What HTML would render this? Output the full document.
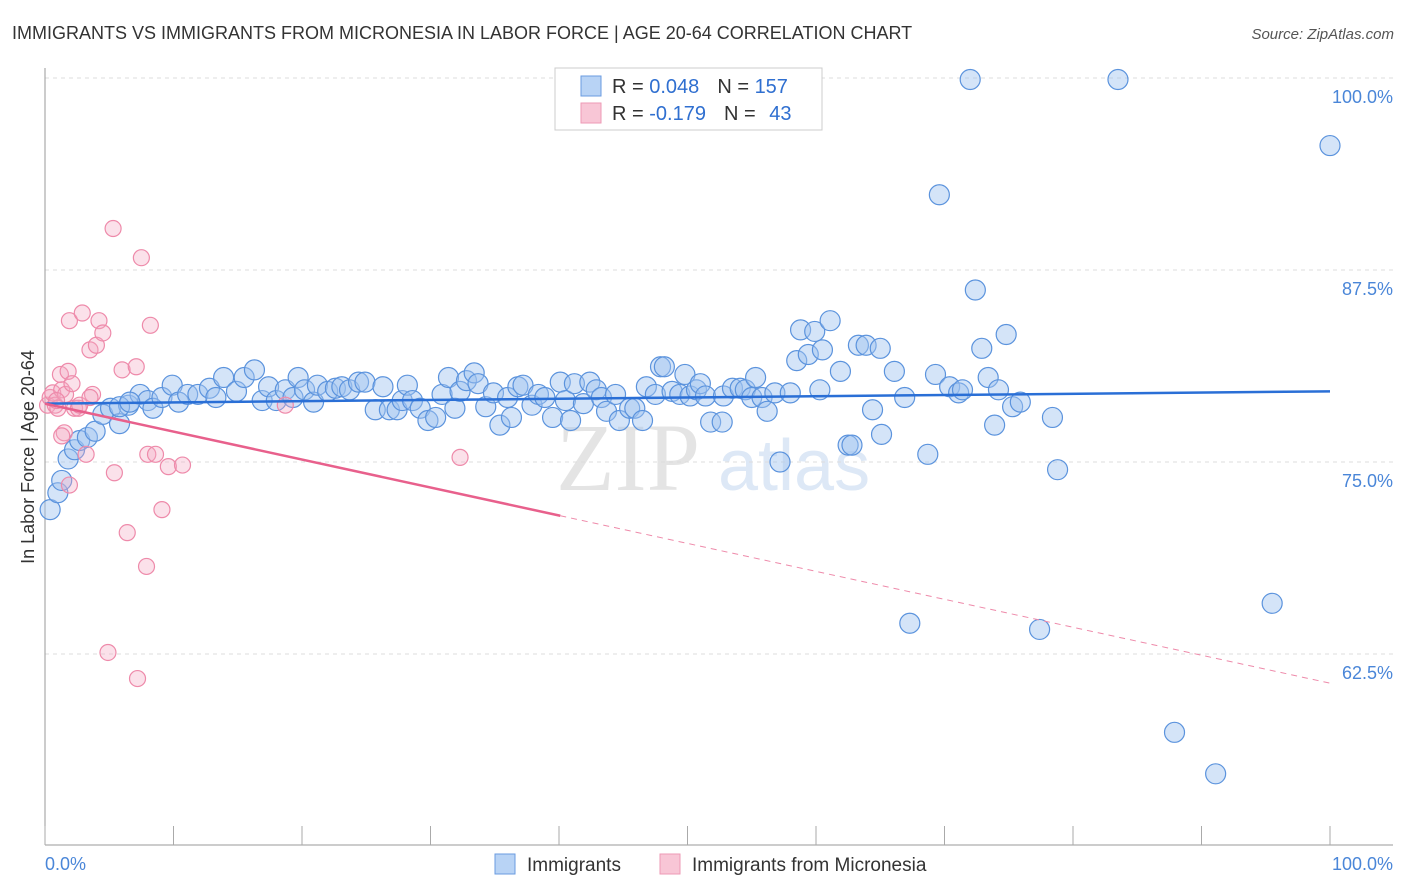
<!DOCTYPE html>
<html><head><meta charset="utf-8"><style>
body{margin:0;background:#fff;font-family:"Liberation Sans",sans-serif;}
svg{display:block}
</style></head><body>
<svg id="chart" width="1406" height="892" xmlns="http://www.w3.org/2000/svg">
<text x="12" y="39" font-size="18" fill="#333">IMMIGRANTS VS IMMIGRANTS FROM MICRONESIA IN LABOR FORCE | AGE 20-64 CORRELATION CHART</text>
<text x="1394" y="39" font-size="15" fill="#555" font-style="italic" text-anchor="end">Source: ZipAtlas.com</text>
<text x="556" y="490" font-size="96" fill="#e4e4e4" font-family="Liberation Serif">ZIP</text>
<text x="718" y="490" font-size="72" fill="#dde8f6">atlas</text>
<g id="grid"></g>
<g id="axes"></g>
<g id="pts"></g>
<g id="lines"></g>
<text transform="translate(34,457) rotate(-90)" font-size="18" fill="#333" text-anchor="middle">In Labor Force | Age 20-64</text>
<g>
<rect x="555" y="68" width="267" height="62" fill="#fff" stroke="#ccc"/>
<rect x="581" y="76" width="20" height="20" fill="#b8d3f5" stroke="#6a9be0"/>
<rect x="581" y="103" width="20" height="20" fill="#f8c6d6" stroke="#ee9ab5"/>
<text x="612" y="93" font-size="20" fill="#333">R = <tspan fill="#2f6fd0">0.048</tspan><tspan dx="18">N = </tspan><tspan fill="#2f6fd0">157</tspan></text>
<text x="612" y="120" font-size="20" fill="#333">R = <tspan fill="#2f6fd0">-0.179</tspan><tspan dx="18">N = </tspan><tspan fill="#2f6fd0" dx="8">43</tspan></text>
</g>
<g>
<rect x="495" y="854" width="20" height="20" fill="#b8d3f5" stroke="#6a9be0"/>
<text x="527" y="871" font-size="19" fill="#333">Immigrants</text>
<rect x="660" y="854" width="20" height="20" fill="#f8c6d6" stroke="#ee9ab5"/>
<text x="692" y="871" font-size="19" fill="#333">Immigrants from Micronesia</text>
</g>
</svg>
<script>
const yTicks=[100,87.5,75,62.5];
const yTickLabels=["100.0%","87.5%","75.0%","62.5%"];
const xLabels=["0.0%","100.0%"];
const blueX=[0.4,1.0,1.3,1.8,2.3,2.7,3.3,3.9,4.5,5.1,5.8,6.5,7.4,8.0,8.4,9.1,9.9,10.4,11.1,11.9,12.8,13.3,13.9,14.9,15.5,16.3,16.9,17.4,18.0,18.7,19.3,19.7,20.2,20.9,21.2,22.0,22.6,23.1,23.7,24.4,24.9,25.7,26.3,26.8,27.4,27.8,28.2,28.6,29.2,29.8,30.4,30.9,31.4,31.9,32.3,32.8,33.4,33.7,34.3,34.9,35.4,36.0,36.3,36.8,37.2,37.9,38.4,38.9,39.5,40.1,40.5,40.9,41.2,41.9,42.4,42.9,43.3,43.7,44.4,44.7,45.5,45.9,46.5,46.8,47.5,47.9,48.2,48.8,49.4,49.8,50.2,50.7,51.0,51.4,51.8,52.7,52.8,53.5,54.1,54.5,55.0,55.3,55.8,56.2,56.8,57.2,58.0,58.5,58.8,59.4,59.9,60.3,60.5,61.1,61.9,62.5,62.8,63.3,63.9,64.4,65.0,65.1,66.1,66.9,68.7,69.3,69.6,70.4,71.1,71.4,72.0,72.4,72.9,73.4,73.9,74.2,74.8,75.3,75.9,78.4,78.8,67.3,77.4,83.5,87.9,91.1,95.5,100.0,5.8,6.6];
const blueY=[71.9,73.0,73.8,75.2,75.8,76.4,76.6,77.0,78.1,78.5,77.5,78.7,79.4,79.0,78.5,79.2,80.0,78.9,79.4,79.4,79.8,79.2,80.5,79.6,80.5,81.0,79.0,79.9,79.0,79.7,79.2,80.5,79.7,78.9,80.0,79.6,79.8,79.9,79.7,80.2,80.2,78.4,79.9,78.4,78.4,79.0,80.0,79.0,78.5,77.7,77.9,79.4,80.5,78.5,79.6,80.3,80.8,80.1,78.6,79.5,77.4,79.2,77.9,79.9,80.0,78.7,79.4,79.2,77.9,80.2,79.0,77.7,80.1,78.8,80.2,79.7,79.2,78.3,79.4,77.7,78.5,78.5,77.7,79.9,79.4,81.2,81.2,79.6,79.4,80.7,79.3,79.7,80.1,79.3,77.6,77.6,79.3,79.8,79.8,79.7,79.2,80.5,79.2,78.3,79.5,75.0,79.5,81.6,83.6,82.0,83.5,79.7,82.3,84.2,80.9,76.1,76.1,82.6,82.6,78.4,82.4,76.8,80.9,79.2,75.5,80.7,92.4,79.9,79.5,79.7,99.9,86.2,82.4,80.5,77.4,79.7,83.3,78.6,78.9,77.9,74.5,64.5,64.1,99.9,57.4,54.7,65.8,95.6,78.6,78.9];
const pinkX=[0.2,0.4,0.6,0.8,1.0,1.2,1.3,1.6,1.8,1.9,1.9,2.1,2.3,2.6,2.7,2.9,3.2,3.5,3.7,4.0,4.2,4.5,5.3,5.4,6.0,6.4,7.1,7.5,7.9,8.0,8.2,8.6,9.1,9.6,10.7,4.9,7.2,18.7,32.3,3.5,0.9,1.5,1.3];
const pinkY=[78.7,79.2,79.5,78.7,78.5,80.7,79.7,79.4,80.9,84.2,73.5,80.1,78.5,78.5,78.7,84.7,75.5,82.3,79.4,82.6,84.2,83.4,90.2,74.3,81.0,70.4,81.2,88.3,68.2,75.5,83.9,75.5,71.9,74.7,74.8,62.6,60.9,78.7,75.3,79.2,79.0,76.9,76.7];
const blueTrend=[78.8,79.6];
const pinkTrend=[78.8,60.6];
const pinkSolidEnd=40.1;
const NS="http://www.w3.org/2000/svg";
const X0=45,X1=1330,YTOP=78,PX_PER=192/12.5;
function sx(v){return X0+(X1-X0)*v/100;}
function sy(v){return YTOP+(100-v)*PX_PER;}
function mk(tag,attrs,parent){const e=document.createElementNS(NS,tag);for(const k in attrs)e.setAttribute(k,attrs[k]);parent.appendChild(e);return e;}
const grid=document.getElementById('grid'),axes=document.getElementById('axes'),pts=document.getElementById('pts'),lines=document.getElementById('lines');
yTicks.forEach((t,i)=>{
 const g=mk('line',{x1:45,x2:1393,y1:sy(t),y2:sy(t),stroke:'#ddd','stroke-dasharray':'4,4'},grid);
 
 
 const l=mk('text',{x:1393,y:sy(t)+25,'font-size':18,fill:'#4a86d8','text-anchor':'end'},axes);
 l.textContent=yTickLabels[i];
 
 
});
const ax=mk('line',{x1:45,x2:45,y1:68,y2:845,stroke:'#999'},axes);


const bx=mk('line',{x1:45,x2:1393,y1:845,y2:845,stroke:'#999'},axes);


for(let i=0;i<=10;i++){
 const t=mk('line',{x1:sx(i*10),x2:sx(i*10),y1:826,y2:845,stroke:'#aaa'},axes);
 
 
}
[[0,'start',45],[100,'end',1393]].forEach((d,i)=>{
 const l=mk('text',{x:d[2],y:870,'font-size':18,fill:'#4a86d8','text-anchor':d[1]},axes);
 l.textContent=xLabels[i];
 
 
});
blueX.forEach((x,i)=>{
 const c=mk('circle',{cx:sx(x),cy:sy(blueY[i]),r:10,fill:'rgba(160,196,240,0.45)',stroke:'#5b93dd','stroke-width':1.2},pts);
 
 
});
pinkX.forEach((x,i)=>{
 const c=mk('circle',{cx:sx(x),cy:sy(pinkY[i]),r:8,fill:'rgba(244,170,195,0.35)',stroke:'#ee8aaa','stroke-width':1.2},pts);
 
 
});
const bt=mk('line',{x1:sx(0),y1:sy(blueTrend[0]),x2:sx(100),y2:sy(blueTrend[1]),stroke:'#2a6fd6','stroke-width':2.5},lines);


const pm=pinkTrend[0]+(pinkTrend[1]-pinkTrend[0])*pinkSolidEnd/100;
const pt=mk('line',{x1:sx(0),y1:sy(pinkTrend[0]),x2:sx(pinkSolidEnd),y2:sy(pm),stroke:'#e8608c','stroke-width':2.5},lines);


const pd=mk('line',{x1:sx(pinkSolidEnd),y1:sy(pm),x2:sx(100),y2:sy(pinkTrend[1]),stroke:'#ee8aaa','stroke-width':1,'stroke-dasharray':'6,5'},lines);


</script>
</body></html>
